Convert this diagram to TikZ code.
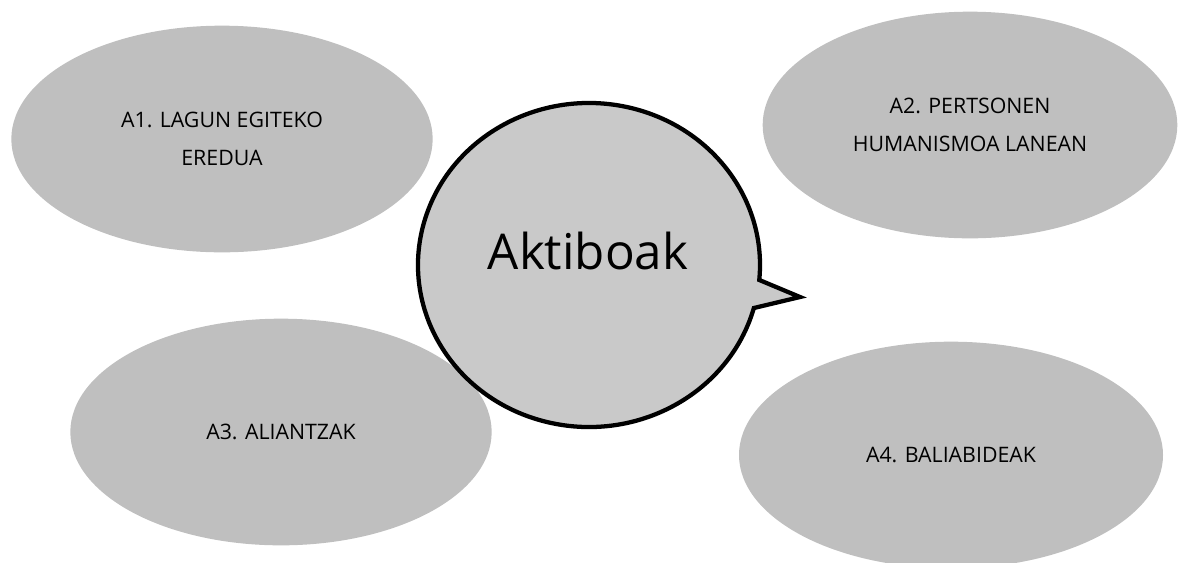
\documentclass[tikz,border=0pt]{standalone}
\usepackage{fontspec}
\setmainfont{Open Sans}
\usetikzlibrary{shapes.geometric}
\definecolor{ellgray}{RGB}{191,191,191}
\definecolor{bubgray}{RGB}{201,201,201}
\tikzset{every picture/.style={line width=0.75pt}}
\tikzset{
  idea/.style={ellipse, fill=ellgray, draw=none, inner sep=0pt, align=center,
    minimum width=316pt, minimum height=170pt, font=\fontsize{16}{28.5}\selectfont},
  bubble/.style={fill=bubgray, draw=black, line width=3.2pt, line join=miter}
}
\begin{document}
\begin{tikzpicture}[x=0.75pt,y=0.75pt,yscale=-1,xscale=1]
\useasboundingbox (0,0) rectangle (1178,562);

%Shape: Ellipse [A1]
\node [idea] (a1) at (222,139) {A1. LAGUN EGITEKO\\EREDUA};
%Shape: Ellipse [A2]
\node [idea, minimum width=311pt] (a2) at (970,125) {A2. PERTSONEN\\HUMANISMOA LANEAN};
%Shape: Ellipse [A3]
\node [idea] (a3) at (281,432) {A3. ALIANTZAK};
%Shape: Ellipse [A4]
\node [idea, minimum width=318pt] (a4) at (951,455) {A4. BALIABIDEAK};

%Shape: Speech Bubble
\coordinate (tip) at (800,297);
\draw [bubble] (589,265) ++(15.4:171 and 162) arc [start angle=15.4, end angle=365.3, x radius=171, y radius=162] -- (tip) -- cycle;

% Text Node
\node [inner sep=0.75pt, font=\fontsize{37}{44}\selectfont] (center) at (588,251) {Aktiboak};

\end{tikzpicture}
\end{document}
